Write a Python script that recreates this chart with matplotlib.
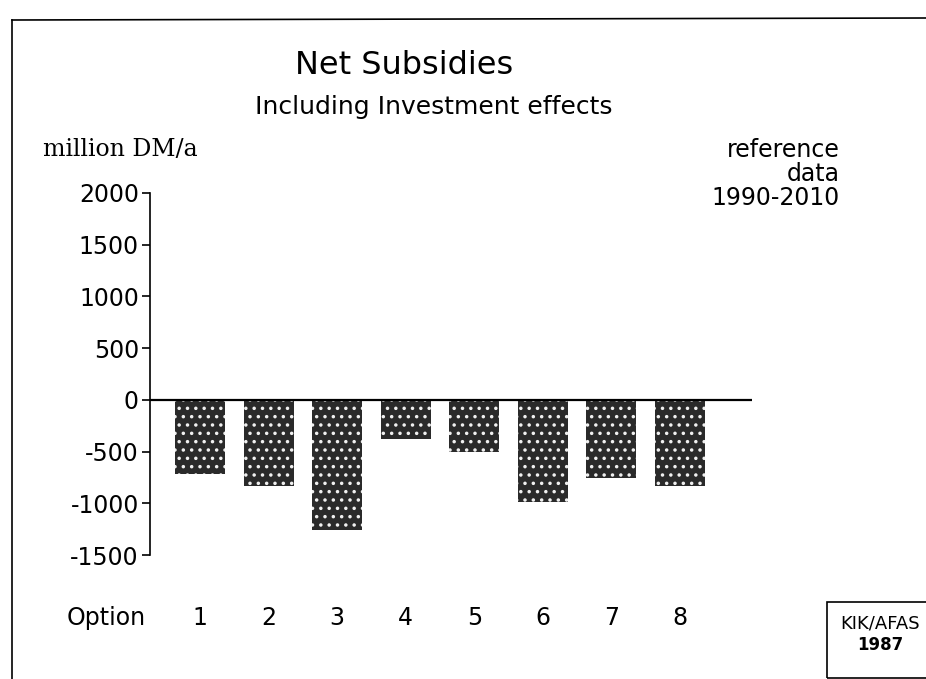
import matplotlib
matplotlib.use("Agg")
import matplotlib.pyplot as plt
from matplotlib.lines import Line2D
from matplotlib.patches import Rectangle

options = [1, 2, 3, 4, 5, 6, 7, 8]
net_subsidies = [-715, -830, -1255, -375, -505, -985, -755, -830]
y_ticks = [-1500, -1000, -500, 0, 500, 1000, 1500, 2000]

plt.rcParams['font.family'] = ['DejaVu Sans']
plt.rcParams['hatch.linewidth'] = 1.3

fig = plt.figure(figsize=(9.26, 6.79), dpi=100)
ax = fig.add_axes([0.162, 0.1826, 0.650, 0.5332])

ax.bar(options, net_subsidies, width=0.73, color='#2a2a2a',
       edgecolor='#f0f0f0', linewidth=0, hatch='..', zorder=2)
ax.axhline(0, color='black', linewidth=1.6, zorder=3)

ax.set_xlim(0.27, 9.05)
ax.set_ylim(-1500, 2000)
ax.set_yticks(y_ticks)
ax.set_yticklabels([str(v) for v in y_ticks], fontsize=17)
ax.tick_params(axis='y', direction='out', length=6, width=1.2, pad=2)

ax.set_xticks(options)
ax.set_xticklabels([str(o) for o in options], fontsize=17)
ax.tick_params(axis='x', length=0, pad=37)
ax.annotate('Option', xy=(-0.37, 0), xycoords=('data', 'axes fraction'),
            xytext=(0, -37), textcoords='offset points', fontsize=17,
            ha='center', va='top', annotation_clip=False)

for side in ['top', 'right', 'bottom']:
    ax.spines[side].set_visible(False)
ax.spines['left'].set_linewidth(1.2)

fig.text(404 / 926, 1 - 66 / 679, 'Net Subsidies', fontsize=23,
         ha='center', va='center')
fig.text(434 / 926, 1 - 107 / 679, 'Including Investment effects',
         fontsize=18, ha='center', va='center')
fig.text(43 / 926, 1 - 150 / 679, 'million DM/a', fontsize=17,
         family='DejaVu Serif', ha='left', va='center')
fig.text(840 / 926, 1 - 174 / 679, 'reference\ndata\n1990-2010', fontsize=17,
         ha='right', va='center', linespacing=1.0)

# frame of the page
fig.add_artist(Line2D([12 / 926, 12 / 926], [0, 1 - 20 / 679],
                      transform=fig.transFigure, color='black', lw=1.2))
fig.add_artist(Line2D([12 / 926, 1], [1 - 20 / 679, 1 - 18 / 679],
                      transform=fig.transFigure, color='black', lw=1.2))

# source box
fig.add_artist(Rectangle((827 / 926, 0.002), 1, 1 - 602 / 679 - 0.002,
                         transform=fig.transFigure, fill=False,
                         edgecolor='black', lw=1.2))
fig.text(880 / 926, 1 - 623 / 679, 'KIK/AFAS', fontsize=13,
         ha='center', va='center')
fig.text(880 / 926, 1 - 645 / 679, '1987', fontsize=12, fontweight='bold',
         ha='center', va='center')

fig.savefig('out.png', dpi=100)
